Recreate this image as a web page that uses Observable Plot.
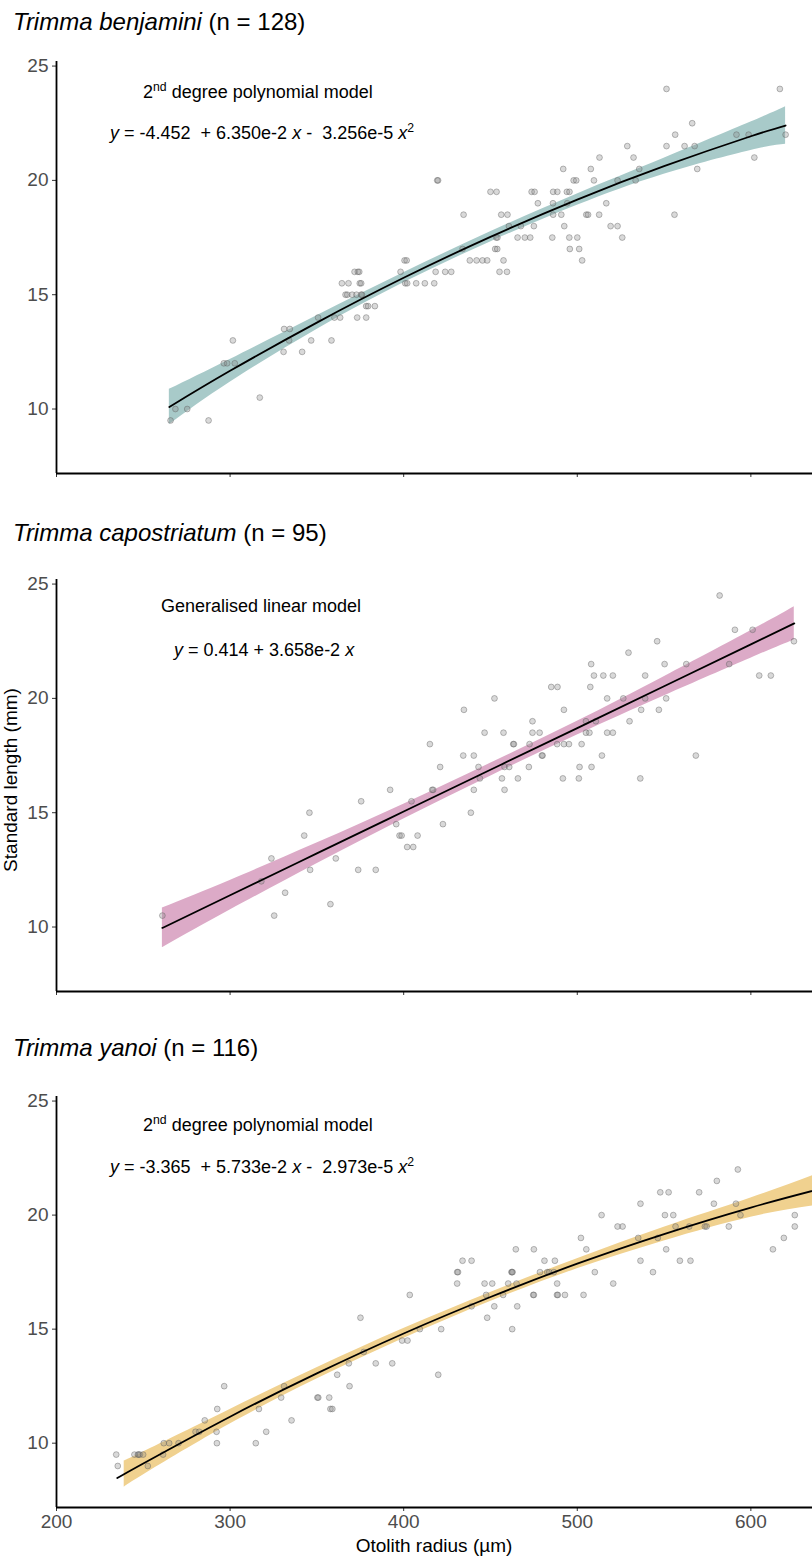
<!DOCTYPE html>
<html>
<head>
<meta charset="utf-8">
<script src="https://cdn.jsdelivr.net/npm/d3@7"></script>
<script src="https://cdn.jsdelivr.net/npm/@observablehq/plot@0.6"></script>
<style>
  body { margin: 0; background: #fff; }
  #wrap { position: relative; width: 812px; height: 1558px; overflow: hidden; background: #fff;
          font-family: "Liberation Sans", Arial, sans-serif; color: #000; }
  .panel { position: absolute; left: 0; }
  .title { position: absolute; left: 13px; font-size: 24px; line-height: 1; white-space: nowrap; transform: translateY(-50%); }
  .note { position: absolute; font-size: 18px; line-height: 1; white-space: nowrap; transform: translateY(-50%); }
  .note sup { font-size: 0.68em; line-height: 0; vertical-align: 0.55em; }
  .ylab { position: absolute; left: 11px; top: 780px; font-size: 19px; white-space: nowrap; transform: translate(-50%, -50%) rotate(-90deg); }
  .xlab { position: absolute; left: 434px; top: 1546px; font-size: 19px; white-space: nowrap; transform: translate(-50%, -50%); }
</style>
</head>
<body>
<div id="wrap"></div>
<script>
// ---------------- data ----------------
const xTicks = [200, 300, 400, 500, 600];
const yTicks = [10, 15, 20, 25];

const speciesNames = ["Trimma benjamini", "Trimma capostriatum", "Trimma yanoi"];
const sampleSizes = [128, 95, 116];
const modelNames = ["2nd degree polynomial model", "Generalised linear model", "2nd degree polynomial model"];
const bandColors = ["#a8cac9", "#dcaac7", "#f0d18f"];

// observations [otolith radius (µm), standard length (mm)]
const benjaminiPoints = [
  [265.7,9.5],[268.5,10],[275.3,10],[287.6,9.5],[296.4,12],[298.3,12],[302.7,12],[301.6,13],[317.1,10.5],
  [330.8,12.5],[331.1,13.5],[334.4,13.5],[334,13],[341.5,12.5],[346.7,13],[350.7,14],[358.4,13],[360.1,14],
  [363.4,14],[364.4,15.5],[368.2,15.5],[366.5,15],[367.5,15],[370.3,15],[372.8,15],[375.5,15],[376,15],
  [371.7,16],[373.6,16],[374.4,16],[374.7,15.5],[375.5,15.5],[373.2,14],[378.4,14],[378.4,14.5],[379.5,14.5],
  [383.4,14.5],[398.2,16],[400.5,16.5],[401.7,16.5],[400.9,15.5],[402,15.5],[407.2,15.5],[412.2,15.5],
  [417.6,15.5],[418.4,16],[423.9,16],[427.4,16],[455.2,16],[459.5,16],[438.1,16.5],[442,16.5],[445.4,16.5],
  [448.1,16.5],[457.5,16.5],[502.8,16.5],[433.9,17],[452.7,17],[453.9,17],[495.7,17],[501.1,17],[453.3,17.5],
  [454,17.5],[465.6,17.5],[469.8,17.5],[472.9,17.5],[485.6,17.5],[495.4,17.5],[500,17.5],[525.9,17.5],
  [460.6,18],[467.5,18],[475,18],[492.5,18],[519.2,18],[523.2,18],[434.5,18.5],[456.2,18.5],[459.8,18.5],
  [486.1,18.5],[490.8,18.5],[505.2,18.5],[506.2,18.5],[512.6,18.5],[556,18.5],[477.3,19],[486,19],[494.2,19],
  [516.7,19],[450,19.5],[453.5,19.5],[473.7,19.5],[475.4,19.5],[486.1,19.5],[488.5,19.5],[494,19.5],
  [495.5,19.5],[419.3,20],[419.8,20],[497.9,20],[499.4,20],[509.6,20],[523.2,20],[533.6,20],[491.9,20.5],
  [507.8,20.5],[535.7,20.5],[569.1,20.5],[512.8,21],[532.4,21],[602,21],[528.8,21.5],[551.4,21.5],
  [561.8,21.5],[567.6,21.5],[556.4,22],[591.7,22],[598.7,22],[620,22],[566.2,22.5],[551.4,24],[616.7,24]
];
const capostriatumPoints = [
  [261,10.5],[318,12],[323.8,13],[325.4,10.5],[331.7,11.5],[342.7,14],[345.7,15],[346.1,12.5],[357.8,11],
  [360.9,13],[373.8,12.5],[383.9,12.5],[375.5,15.5],[392.2,16],[395.7,14.5],[397.6,14],[398.8,14],[402,13.5],
  [405.5,13.5],[404.5,15.5],[408,14],[416.4,16],[417,16],[440.4,16],[458.1,16],[438.7,15],[422.6,14.5],
  [421,17],[443.1,17],[458.1,17],[460.8,17],[472.1,17],[501.3,17],[508.2,17],[443.9,16.5],[456.6,16.5],
  [465.8,16.5],[491.7,16.5],[500.9,16.5],[536.3,16.5],[434.3,17.5],[440.4,17.5],[479.6,17.5],[480,17.5],
  [514.2,17.5],[568.3,17.5],[415.1,18],[463.1,18],[463.5,18],[472.5,18],[488.4,18],[492.3,18],[495.2,18],
  [502.5,18],[446.6,18.5],[457.5,18.5],[474.2,18.5],[478.3,18.5],[505,18.5],[507,18.5],[517.2,18.5],
  [520.5,18.5],[474.2,19],[505,19],[510.7,19],[530.1,19],[434.7,19.5],[492.3,19.5],[536.8,19.5],[547,19.5],
  [452.3,20],[517.2,20],[526.5,20],[539.1,20],[551.2,20],[485,20.5],[488.6,20.5],[507.5,20.5],[509.6,21],
  [515,21],[520.5,21],[539.1,21],[604.8,21],[611.5,21],[508,21.5],[550.3,21.5],[562.8,21.5],[587.5,21.5],
  [529.5,22],[546,22.5],[624.8,22.5],[590.8,23],[601,23],[582,24.5]
];
const yanoiPoints = [
  [234.4,9.5],[235.3,9],[244.9,9.5],[246.9,9.5],[247.3,9.5],[248,9.5],[249.9,9.5],[252.6,9],[261.4,9.5],
  [261.8,10],[264.9,10],[270.3,10],[280.1,10.5],[282.2,10.5],[285.4,11],[292.2,10.5],[292.4,10],[292.6,11.5],
  [296.6,12.5],[314.8,10],[316.6,11.5],[320.8,10.5],[329.4,12],[331.1,12.5],[335.4,11],[350.3,12],[350.8,12],
  [357.1,12],[357.8,11.5],[358.9,11.5],[361.7,13],[368.4,13.5],[368.8,12.5],[375.1,15.5],[377,14],[383.9,13.5],
  [393.4,13.5],[399.1,14.5],[402.2,14.5],[403.5,16.5],[409.3,15],[421.6,15],[462.5,15],[419.9,13],[448.1,15.5],
  [439.1,16],[452.2,16],[465.4,16],[447.5,16.5],[457.3,16.5],[474.6,16.5],[475,16.5],[488.3,16.5],[488.8,16.5],
  [492.9,16.5],[503.6,16.5],[430.8,17],[446.6,17],[451,17],[460.2,17],[465,17],[488.4,17],[520.7,17],
  [430.8,17.5],[431.3,17.5],[462.1,17.5],[462.4,17.5],[462.7,17.5],[478.5,17.5],[482.7,17.5],[483.8,17.5],
  [486.5,17.5],[510.1,17.5],[543.6,17.5],[433.9,18],[439.1,18],[481.1,18],[487.1,18],[536.4,18],[559.1,18],
  [565.2,18],[464.6,18.5],[475,18.5],[505.2,18.5],[551.2,18.5],[612.7,18.5],[502.1,19],[535.1,19],[546.4,19],
  [619,19],[523.2,19.5],[526.1,19.5],[556.6,19.5],[564.5,19.5],[573.5,19.5],[574.5,19.5],[587.3,19.5],
  [625.3,19.5],[514,20],[550.5,20],[555.3,20],[594,20],[625.3,20],[536.4,20.5],[578.7,20.5],[591.4,20.5],
  [547.8,21],[552.6,21],[570.2,21],[580.4,21.5],[592.5,22]
];

// fitted curves: [x, fit, lower, upper]
const benjaminiFit = [
  [265,10.09,9.32,10.86],[300,11.67,11.17,12.17],[350,13.78,13.48,14.08],[400,15.74,15.52,15.96],
  [450,17.53,17.31,17.75],[500,19.16,18.91,19.41],[550,20.62,20.27,20.97],[600,21.93,21.31,22.55],
  [620,22.40,21.58,23.22]
];
const capostriatumFit = [
  [261,9.96,9.09,10.83],[300,11.39,10.74,12.04],[350,13.22,12.77,13.67],[400,15.05,14.73,15.37],
  [450,16.88,16.60,17.16],[500,18.70,18.40,19.00],[550,20.53,20.11,20.95],[600,22.36,21.76,22.96],
  [625,23.28,22.55,24.01]
];
const yanoiLine = [
  [235,8.47],[250,9.11],[300,11.16],[350,13.06],[400,14.81],[450,16.41],[500,17.87],[550,19.17],
  [600,20.33],[640,21.15]
];
const yanoiBand = [
  [239,8.06,9.22],[250,8.61,9.61],[300,10.84,11.48],[350,12.81,13.31],[400,14.59,15.03],
  [450,16.21,16.61],[500,17.65,18.09],[550,18.87,19.47],[600,19.91,20.75],[640,20.45,21.85]
];

// ---------------- layout ----------------
const wrap = document.getElementById("wrap");
const yDomain = [7.18, 25.2];
const xDomain = [200, 635.5];

function addHTML(cls, html, left, top) {
  const d = document.createElement("div");
  d.className = cls;
  d.innerHTML = html;
  if (left != null) d.style.left = left + "px";
  if (top != null) d.style.top = top + "px";
  wrap.appendChild(d);
}

function panel({points, line, band, color, top, height, marginBottom, showXLabels}) {
  const chart = Plot.plot({
    width: 812,
    height,
    marginLeft: 56,
    marginRight: 0,
    marginTop: 20,
    marginBottom,
    style: {fontFamily: "'Liberation Sans', Arial, sans-serif", fontSize: "19px", background: "transparent", overflow: "visible"},
    x: {domain: xDomain},
    y: {domain: yDomain},
    marks: [
      Plot.areaY(band, {x: d => d[0], y1: d => d[d.length - 2], y2: d => d[d.length - 1], fill: color, curve: "natural"}),
      Plot.dot(points, {x: d => d[0], y: d => d[1], r: 2.9, fill: "#8a8a8a", fillOpacity: 0.32, stroke: "#606060", strokeOpacity: 0.42, strokeWidth: 1}),
      Plot.line(line, {x: d => d[0], y: d => d[1], stroke: "#000", strokeWidth: 1.8, curve: "natural"}),
      Plot.axisY({ticks: yTicks, tickSize: 4, tickPadding: 4, stroke: "#333", fill: "#4d4d4d", label: null}),
      Plot.axisX({ticks: xTicks, tickSize: 4, tickPadding: 3, stroke: "#333", fill: "#4d4d4d", label: null,
                  tickFormat: showXLabels ? (d => String(d)) : (() => "")}),
      Plot.ruleX([xDomain[0]], {stroke: "#000", strokeWidth: 1.8}),
      Plot.ruleY([yDomain[0]], {stroke: "#000", strokeWidth: 1.8})
    ]
  });
  chart.classList.add("panel");
  chart.style.top = top + "px";
  wrap.appendChild(chart);
}

panel({points: benjaminiPoints, line: benjaminiFit, band: benjaminiFit, color: bandColors[0], top: 41, height: 442, marginBottom: 10, showXLabels: false});
panel({points: capostriatumPoints, line: capostriatumFit, band: capostriatumFit, color: bandColors[1], top: 559, height: 442, marginBottom: 10, showXLabels: false});
panel({points: yanoiPoints, line: yanoiLine, band: yanoiBand, color: bandColors[2], top: 1076, height: 482, marginBottom: 51, showXLabels: true});

// titles
addHTML("title", `<i>${speciesNames[0]}</i> (n = ${sampleSizes[0]})`, null, 22);
addHTML("title", `<i>${speciesNames[1]}</i> (n = ${sampleSizes[1]})`, null, 533);
addHTML("title", `<i>${speciesNames[2]}</i> (n = ${sampleSizes[2]})`, null, 1048);

// model annotations
addHTML("note", `2<sup>nd</sup> degree polynomial model`, 143, 92);
addHTML("note", `<i>y</i> = -4.452&nbsp; + 6.350e-2 <i>x</i> -&nbsp; 3.256e-5 <i>x</i><sup>2</sup>`, 110, 133);
addHTML("note", modelNames[1], 161, 606);
addHTML("note", `<i>y</i> = 0.414 + 3.658e-2 <i>x</i>`, 174, 650);
addHTML("note", `2<sup>nd</sup> degree polynomial model`, 143, 1125);
addHTML("note", `<i>y</i> = -3.365&nbsp; + 5.733e-2 <i>x</i> -&nbsp; 2.973e-5 <i>x</i><sup>2</sup>`, 110, 1167);

// axis titles
addHTML("ylab", "Standard length (mm)");
addHTML("xlab", "Otolith radius (µm)");
</script>
</body>
</html>
